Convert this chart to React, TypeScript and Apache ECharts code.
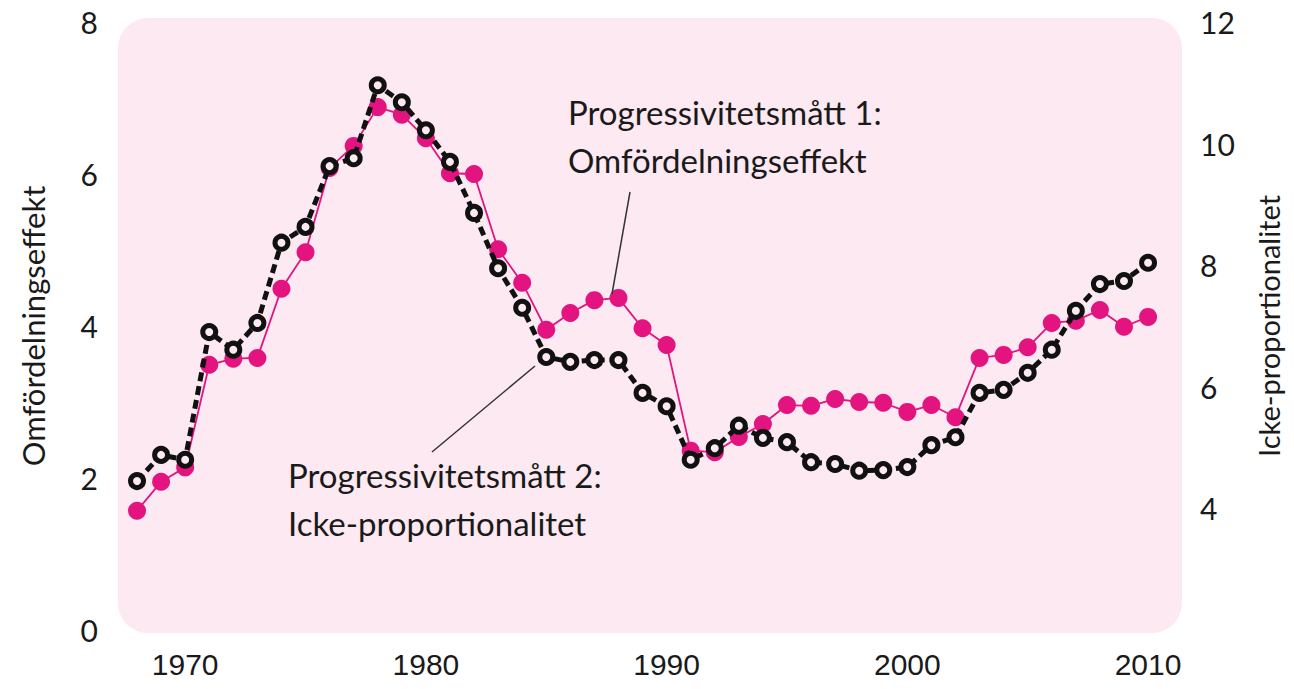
import React, { useEffect, useRef } from "react";
import * as echarts from "echarts";

const years = [
  1968, 1969, 1970, 1971, 1972, 1973, 1974, 1975, 1976, 1977,
  1978, 1979, 1980, 1981, 1982, 1983, 1984, 1985, 1986, 1987,
  1988, 1989, 1990, 1991, 1992, 1993, 1994, 1995, 1996, 1997,
  1998, 1999, 2000, 2001, 2002, 2003, 2004, 2005, 2006, 2007,
  2008, 2009, 2010,
];

// Progressivitetsmått 1: Omfördelningseffekt (left axis)
const omfordelning = [
  1.57, 1.95, 2.14, 3.49, 3.57, 3.58, 4.49, 4.97, 6.08, 6.37,
  6.88, 6.78, 6.47, 6.01, 6.0, 5.01, 4.57, 3.95, 4.17, 4.34,
  4.37, 3.97, 3.75, 2.36, 2.34, 2.54, 2.71, 2.96, 2.95, 3.04,
  3.0, 2.99, 2.87, 2.96, 2.8, 3.58, 3.62, 3.72, 4.04, 4.07,
  4.21, 3.99, 4.12,
];

// Progressivitetsmått 2: Icke-proportionalitet (right axis)
const ickeProportionalitet = [
  4.45, 4.88, 4.8, 6.9, 6.61, 7.05, 8.37, 8.63, 9.63, 9.76,
  10.96, 10.68, 10.22, 9.7, 8.86, 7.95, 7.3, 6.49, 6.41, 6.44,
  6.44, 5.9, 5.68, 4.8, 4.99, 5.36, 5.16, 5.09, 4.76, 4.73,
  4.62, 4.63, 4.68, 5.04, 5.17, 5.9, 5.95, 6.23, 6.61, 7.25,
  7.69, 7.74, 8.04,
];

const xTickLabels = [1970, 1980, 1990, 2000, 2010];
const leftTicks = [0, 2, 4, 6, 8];
const rightTicks = [4, 6, 8, 10, 12];

const PINK = "#e3147f";
const BG = "#fce9f1";
const FONT = "Lato, 'Open Sans', sans-serif";

export default function App() {
  const ref = useRef<HTMLDivElement>(null);

  useEffect(() => {
    document.body.style.margin = "0";
    if (!ref.current) return;
    const chart = echarts.init(ref.current, undefined, { renderer: "svg" });

    const option: any = {
      animation: false,
      backgroundColor: "#ffffff",
      grid: { left: 118, right: 112, top: 22, bottom: 59, containLabel: false },
      xAxis: {
        type: "value",
        min: 1967.21,
        max: 2011.41,
        axisLine: { show: false },
        axisTick: { show: false },
        splitLine: { show: false },
        axisLabel: {
          customValues: xTickLabels,
          formatter: (v: number) => String(v),
          fontFamily: "'Liberation Sans Narrow', 'Liberation Sans', sans-serif",
          fontSize: 30,
          color: "#1a1a1a",
          margin: 19,
        },
      },
      yAxis: [
        {
          type: "value",
          min: 0,
          max: 8,
          interval: 2,
          position: "left",
          axisLine: { show: false },
          axisTick: { show: false },
          splitLine: { show: false },
          axisLabel: {
            customValues: leftTicks,
            fontFamily: FONT,
            fontSize: 30,
            color: "#1a1a1a",
            margin: 20,
          },
          name: "Omfördelningseffekt",
          nameLocation: "middle",
          nameRotate: 90,
          nameGap: 70,
          nameTextStyle: { fontFamily: FONT, fontSize: 31, color: "#1a1a1a" },
        },
        {
          type: "value",
          min: 2,
          max: 12,
          interval: 2,
          position: "right",
          axisLine: { show: false },
          axisTick: { show: false },
          splitLine: { show: false },
          axisLabel: {
            customValues: rightTicks,
            fontFamily: FONT,
            fontSize: 30,
            color: "#1a1a1a",
            margin: 18,
          },
          name: "Icke-proportionalitet",
          nameLocation: "middle",
          nameRotate: 90,
          nameGap: 72,
          nameTextStyle: { fontFamily: FONT, fontSize: 29, color: "#1a1a1a" },
        },
      ],
      graphic: [
        {
          type: "rect",
          z: -10,
          silent: true,
          shape: { x: 118, y: 18, width: 1064, height: 615, r: 30 },
          style: { fill: BG },
        },
        {
          type: "text",
          z: 10,
          x: 568,
          y: 88,
          style: {
            text: "Progressivitetsmått 1:\nOmfördelningseffekt",
            font: `33px ${FONT}`,
            fill: "#1a1a1a",
            lineHeight: 48,
            textVerticalAlign: "top",
          },
        },
        {
          type: "line",
          z: 10,
          shape: { x1: 630, y1: 192, x2: 612, y2: 294 },
          style: { stroke: "#333", lineWidth: 1.5 },
        },
        {
          type: "text",
          z: 10,
          x: 288,
          y: 451,
          style: {
            text: "Progressivitetsmått 2:\nIcke-proportionalitet",
            font: `33px ${FONT}`,
            fill: "#1a1a1a",
            lineHeight: 48,
            textVerticalAlign: "top",
          },
        },
        {
          type: "line",
          z: 10,
          shape: { x1: 535, y1: 366, x2: 432, y2: 452 },
          style: { stroke: "#333", lineWidth: 1.5 },
        },
      ],
      series: [
        {
          name: "Omfördelningseffekt",
          type: "line",
          yAxisIndex: 0,
          data: years.map((y, i) => [y, omfordelning[i]]),
          symbol: "circle",
          symbolSize: 18,
          showAllSymbol: true,
          lineStyle: { color: PINK, width: 1.8 },
          itemStyle: { color: PINK, borderWidth: 0 },
          z: 2,
        },
        {
          name: "Icke-proportionalitet",
          type: "line",
          yAxisIndex: 1,
          data: years.map((y, i) => [y, ickeProportionalitet[i]]),
          symbol: "circle",
          symbolSize: 13,
          showAllSymbol: true,
          lineStyle: { color: "#111", width: 5, type: [9, 5] },
          itemStyle: { color: BG, borderColor: "#111", borderWidth: 5 },
          z: 3,
        },
      ],
    };

    chart.setOption(option);
    return () => chart.dispose();
  }, []);

  return <div ref={ref} style={{ width: 1294, height: 689 }} />;
}
